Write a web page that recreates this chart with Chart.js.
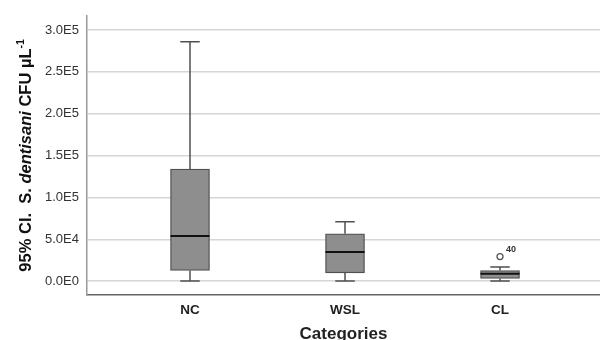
<!DOCTYPE html>
<html><head><meta charset="utf-8">
<style>html,body{margin:0;padding:0;background:#fff;overflow:hidden}#wrap{width:600px;height:340px;position:relative}</style>
</head><body><div id="wrap"><canvas id="c"></canvas></div>
<script src="https://cdn.jsdelivr.net/npm/chart.js@4.4.1/dist/chart.umd.min.js"></script>
<script>
const categories = ['NC', 'WSL', 'CL'];
const whiskerLow = [0, 0, 0];
const q1 = [12700, 9900, 3200];
const medians = [53800, 34800, 8700];
const q3 = [133800, 56600, 12700];
const whiskerHigh = [285900, 70900, 17000];
const outlierCategory = ['CL'];
const outlierValues = [29300];
const outlierLabels = ['40'];
const yTickValues = [0, 50000, 100000, 150000, 200000, 250000, 300000];
const yTickLabels = ['0.0E0', '5.0E4', '1.0E5', '1.5E5', '2.0E5', '2.5E5', '3.0E5'];
const yTitleParts = [
  {text: '95% CI.  S. ', style: 'bold'},
  {text: 'dentisani', style: 'italic bold'},
  {text: ' CFU µL', style: 'bold'},
  {text: '-1', style: 'bold', sup: true}
];

const FONT = '"Liberation Sans", Arial, sans-serif';

const boxPlugin = {
  id: 'boxExtras',
  afterDatasetsDraw(chart) {
    const x = chart.scales.x, y = chart.scales.y, ctx = chart.ctx;
    const meta = chart.getDatasetMeta(0);
    ctx.save();
    categories.forEach((c, i) => {
      const bar = meta.data[i];
      const cx = x.getPixelForValue(i + 1);
      const half = bar.width / 2;
      const capHalf = half / 2;
      const yHi = y.getPixelForValue(whiskerHigh[i]);
      const yLo = y.getPixelForValue(whiskerLow[i]);
      const yQ1 = y.getPixelForValue(q1[i]);
      const yQ3 = y.getPixelForValue(q3[i]);
      ctx.strokeStyle = '#505050';
      ctx.lineWidth = 1.5;
      ctx.beginPath();
      ctx.moveTo(cx, yQ3); ctx.lineTo(cx, yHi);
      ctx.moveTo(cx - capHalf, yHi); ctx.lineTo(cx + capHalf, yHi);
      ctx.moveTo(cx, yQ1); ctx.lineTo(cx, yLo);
      ctx.moveTo(cx - capHalf, yLo); ctx.lineTo(cx + capHalf, yLo);
      ctx.stroke();
      const yMed = y.getPixelForValue(medians[i]);
      ctx.strokeStyle = '#111';
      ctx.lineWidth = 2;
      ctx.beginPath();
      ctx.moveTo(cx - half, yMed); ctx.lineTo(cx + half, yMed);
      ctx.stroke();
    });
    const om = chart.getDatasetMeta(1);
    ctx.fillStyle = '#333';
    ctx.font = 'bold 9px ' + FONT;
    ctx.textAlign = 'left';
    ctx.textBaseline = 'middle';
    om.data.forEach((p, i) => {
      ctx.fillText(outlierLabels[i], p.x + 6, p.y - 7);
    });
    ctx.restore();
  },
  afterDraw(chart) {
    const ctx = chart.ctx, area = chart.chartArea;
    ctx.save();
    ctx.translate(26, (area.top + area.bottom) / 2);
    ctx.rotate(-Math.PI / 2);
    ctx.fillStyle = '#111';
    ctx.textBaseline = 'middle';
    ctx.textAlign = 'left';
    let total = 0;
    const fontFor = p => p.style + ' ' + (p.sup ? 10.5 : 16.5) + 'px ' + FONT;
    const widths = yTitleParts.map(p => {
      ctx.font = fontFor(p);
      const w = ctx.measureText(p.text).width;
      total += w;
      return w;
    });
    let xPos = -total / 2;
    yTitleParts.forEach((p, i) => {
      ctx.font = fontFor(p);
      ctx.fillText(p.text, xPos, p.sup ? -5 : 0);
      xPos += widths[i];
    });
    ctx.restore();
  }
};

new Chart(document.getElementById('c'), {
  data: {
    datasets: [
      {
        type: 'bar',
        data: categories.map((c, i) => ({x: i + 1, y: [q1[i], q3[i]]})),
        backgroundColor: '#8e8e8e',
        borderColor: '#505050',
        borderWidth: 1.3,
        borderSkipped: false,
        barThickness: 39
      },
      {
        type: 'scatter',
        data: outlierValues.map((v, i) => ({x: categories.indexOf(outlierCategory[i]) + 1, y: v})),
        pointRadius: 3,
        pointHoverRadius: 3,
        pointBorderWidth: 1.3,
        borderColor: '#555',
        backgroundColor: '#fff'
      }
    ]
  },
  options: {
    responsive: true,
    maintainAspectRatio: false,
    animation: false,
    events: [],
    layout: {autoPadding: false, padding: {top: 14, left: 0, right: 0, bottom: 0}},
    plugins: {legend: {display: false}, tooltip: {enabled: false}},
    scales: {
      x: {
        type: 'linear',
        offset: false,
        bounds: 'data',
        min: 0.3355,
        max: 3.645,
        afterBuildTicks: s => { s.ticks = categories.map((c, i) => ({value: i + 1})); },
        ticks: {
          callback: v => categories[v - 1],
          font: {family: FONT, size: 13.5, weight: 'bold'},
          color: '#222',
          padding: 7,
          maxRotation: 0
        },
        grid: {display: false, drawTicks: false, offset: false},
        border: {color: '#666', width: 1.5},
        title: {
          display: true,
          text: 'Categories',
          font: {family: FONT, size: 17, weight: 'bold', lineHeight: 0.7},
          color: '#222',
          padding: 0
        },
        afterFit: s => { s.height = 45; s.paddingLeft = 0; s.paddingRight = 0; }
      },
      y: {
        min: -16600,
        max: 317000,
        afterBuildTicks: s => { s.ticks = yTickValues.map(v => ({value: v})); },
        ticks: {
          callback: (v, i) => yTickLabels[i],
          font: {family: FONT, size: 13},
          color: '#333',
          padding: 8
        },
        grid: {color: '#d6d6d6', lineWidth: 1.5, drawTicks: false},
        border: {color: '#999', width: 1.5},
        afterFit: s => { s.width = 87; }
      }
    }
  },
  plugins: [boxPlugin]
});
</script>
</body></html>
